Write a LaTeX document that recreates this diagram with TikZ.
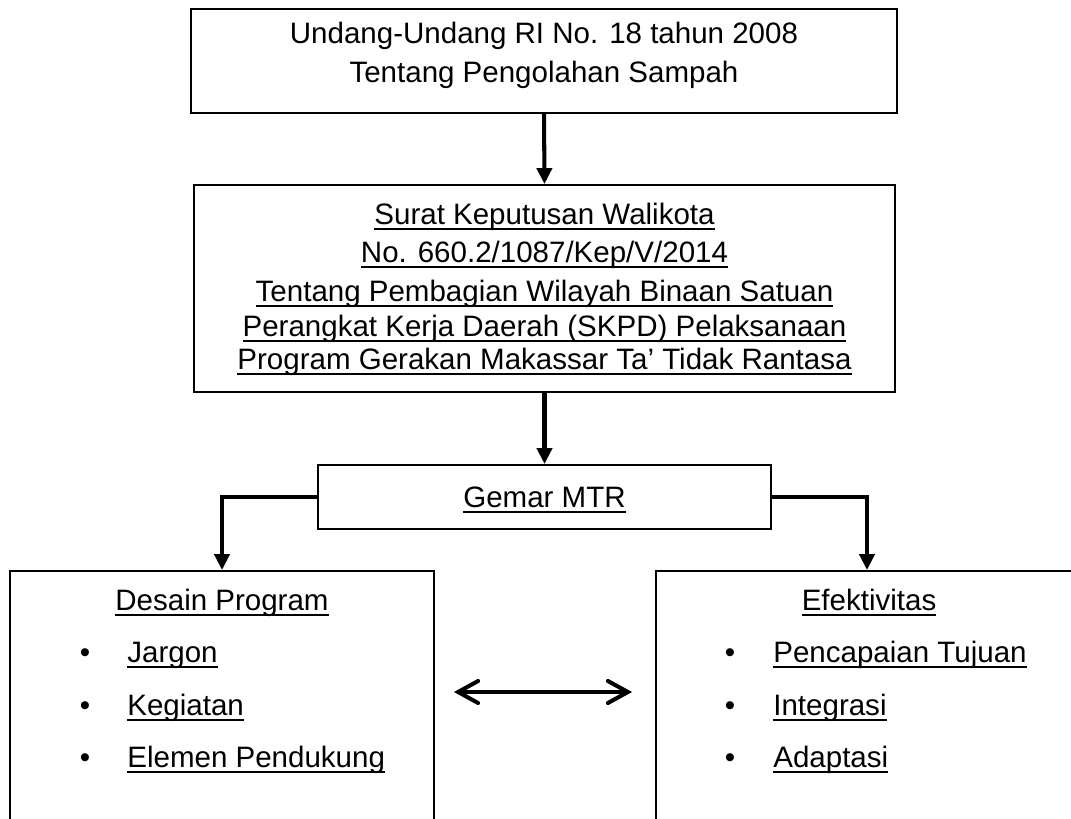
\documentclass[tikz,border=0pt]{standalone}
\usepackage{fontspec}
\setmainfont{Liberation Sans}
\usepackage{tikz}
\usetikzlibrary{arrows.meta}

\newsavebox{\garisbox}
\newcommand{\garis}[1]{\sbox{\garisbox}{#1}%
  \rlap{\rule[-3.6pt]{\wd\garisbox}{1.3pt}}\usebox{\garisbox}}

\begin{document}
\begin{tikzpicture}[x=0.02cm, y=-0.02cm, font=\fontsize{16.8}{20}\selectfont,
  kotak/.style={draw, line width=1.1pt, inner sep=0pt},
  baris/.style={anchor=base, inner sep=0pt},
  butir/.style={anchor=base west, inner sep=0pt},
  panah/.style={line width=2.3pt, -{Triangle[length=0.32cm, width=0.3cm]}},
  panahdua/.style={line width=2.3pt, line cap=round,
    {Straight Barb[length=0.4cm, width=0.44cm, line cap=round]}-{Straight Barb[length=0.4cm, width=0.44cm, line cap=round]}}]

%% ─── Page area (the lower boxes run past the bottom edge) ───
\clip (0,0) rectangle (1071,818);

%% ─── Undang-Undang ──────────────────────────────────────────
\node[kotak, minimum width=14.12cm, minimum height=2.08cm] (uu) at (544,61) {};
\node[baris] at (544,43) {Undang-Undang RI No. 18 tahun 2008};
\node[baris] at (544,82) {Tentang Pengolahan Sampah};

%% ─── Surat Keputusan Walikota ───────────────────────────────
\node[kotak, minimum width=14.02cm, minimum height=4.14cm] (skwali) at (544.5,288.5) {};
\node[baris] at (544.5,224) {\garis{Surat Keputusan Walikota}};
\node[baris] at (544.5,262) {\garis{No. 660.2/1087/Kep/V/2014}};
\node[baris] at (544.5,301) {\garis{Tentang Pembagian Wilayah Binaan Satuan}};
\node[baris] at (544.5,336) {\garis{Perangkat Kerja Daerah (SKPD) Pelaksanaan}};
\node[baris] at (544.5,369) {\garis{Program Gerakan Makassar Ta’ Tidak Rantasa}};

%% ─── Gemar MTR ──────────────────────────────────────────────
\node[kotak, minimum width=9.06cm, minimum height=1.28cm] (gemar) at (544.5,497) {};
\node[baris] at (544.5,507) {\garis{Gemar MTR}};

%% ─── Desain Program (left) ──────────────────────────────────
\node[kotak, minimum width=8.48cm, minimum height=5.38cm] (desain) at (222,705.5) {};
\node[baris] at (222,610) {\garis{Desain Program}};
\node[baris] at (85,662) {•};
\node[butir] at (127,662) {\garis{Jargon}};
\node[baris] at (85,715) {•};
\node[butir] at (127,715) {\garis{Kegiatan}};
\node[baris] at (85,767) {•};
\node[butir] at (127,767) {\garis{Elemen Pendukung}};

%% ─── Efektivitas (right) ────────────────────────────────────
\node[kotak, minimum width=8.44cm, minimum height=5.38cm] (efek) at (867,705.5) {};
\node[baris] at (869,610) {\garis{Efektivitas}};
\node[baris] at (730,662) {•};
\node[butir] at (773,662) {\garis{Pencapaian Tujuan}};
\node[baris] at (730,715) {•};
\node[butir] at (773,715) {\garis{Integrasi}};
\node[baris] at (730,767) {•};
\node[butir] at (773,767) {\garis{Adaptasi}};

%% ─── Connectors ─────────────────────────────────────────────
\draw[panah] (uu.south) -- (skwali.north);
\draw[panah] (skwali.south) -- (gemar.north);
\draw[panah] (gemar.west) -| (desain.north);
\draw[panah] (gemar.east) -| (efek.north);
\draw[panahdua, shorten <=0.38cm, shorten >=0.46cm]
  ([yshift=0.27cm]desain.east) -- ([yshift=0.27cm]efek.west);

\end{tikzpicture}
\end{document}
